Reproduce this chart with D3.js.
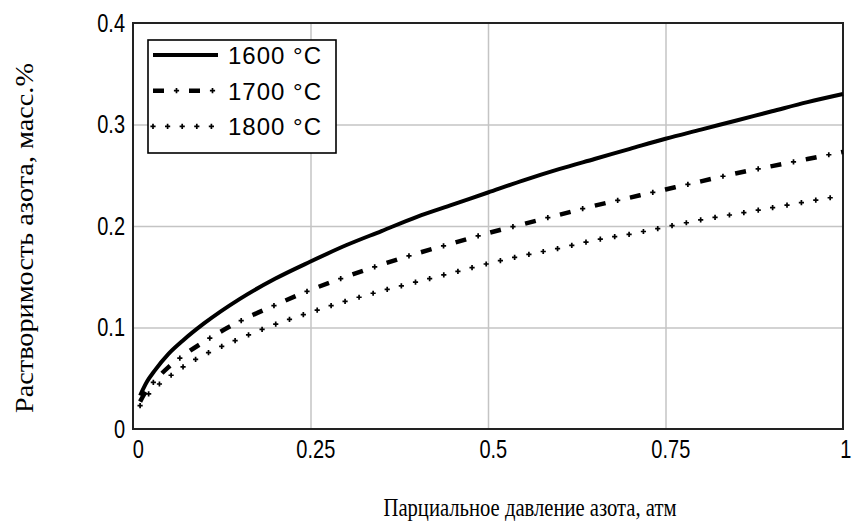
<!DOCTYPE html>
<html>
<head>
<meta charset="utf-8">
<script src="https://cdn.jsdelivr.net/npm/d3@7"></script>
<style>
  body { margin: 0; background: #fff; }
  text { fill: #000; }
</style>
</head>
<body>
<svg id="chart" width="853" height="521"></svg>
<script>
// partial pressure of nitrogen, atm
const pressure = [0.01, 0.02, 0.03, 0.05, 0.07, 0.1, 0.15, 0.2, 0.25, 0.3, 0.35, 0.4,
                  0.45, 0.5, 0.55, 0.6, 0.65, 0.7, 0.75, 0.8, 0.85, 0.9, 0.95, 1.0];
// nitrogen solubility, wt.%
const sol1600 = [0.033, 0.047, 0.057, 0.074, 0.087, 0.104, 0.128, 0.148, 0.165, 0.181, 0.195, 0.209,
                 0.221, 0.233, 0.245, 0.256, 0.266, 0.276, 0.286, 0.295, 0.304, 0.313, 0.322, 0.330];
const sol1700 = [0.027, 0.039, 0.047, 0.061, 0.072, 0.086, 0.106, 0.122, 0.137, 0.150, 0.162, 0.173,
                 0.183, 0.193, 0.202, 0.211, 0.220, 0.228, 0.236, 0.244, 0.252, 0.259, 0.266, 0.273];
const sol1800 = [0.023, 0.033, 0.040, 0.051, 0.061, 0.073, 0.089, 0.103, 0.115, 0.126, 0.136, 0.145,
                 0.154, 0.163, 0.171, 0.178, 0.186, 0.192, 0.199, 0.206, 0.212, 0.218, 0.224, 0.230];
const seriesNames = ["1600 °C", "1700 °C", "1800 °C"];

const xTicks = [0, 0.25, 0.5, 0.75, 1];
const xTickLabels = ["0", "0.25", "0.5", "0.75", "1"];
const yTicks = [0, 0.1, 0.2, 0.3, 0.4];
const yTickLabels = ["0", "0.1", "0.2", "0.3", "0.4"];
const xTitle = "Парциальное давление азота, атм";
const yTitle = "Растворимость азота, масс.%";

const series = [
  { name: seriesNames[0], values: sol1600, style: "solid" },
  { name: seriesNames[1], values: sol1700, style: "dashdot" },
  { name: seriesNames[2], values: sol1800, style: "dotted" }
];

const svg = d3.select("#chart");
const plotLeft = 133, plotTop = 23, plotRight = 843, plotBottom = 429;

const x = d3.scaleLinear().domain([0, 1]).range([plotLeft, plotRight]);
const y = d3.scaleLinear().domain([0, 0.4]).range([plotBottom, plotTop]);

const tickFont = "'Liberation Sans', Arial, sans-serif";
const titleFont = "'Liberation Serif', 'Times New Roman', serif";

// grid
svg.append("g")
  .attr("transform", "translate(0," + plotBottom + ")")
  .call(d3.axisBottom(x).tickValues(xTicks.slice(1, -1)).tickSize(-(plotBottom - plotTop)).tickFormat(""))
  .call(g => g.select(".domain").remove())
  .call(g => g.selectAll("line").attr("stroke", "#c4c4c4").attr("stroke-width", 1.5));
svg.append("g")
  .attr("transform", "translate(" + plotLeft + ",0)")
  .call(d3.axisLeft(y).tickValues(yTicks.slice(1, -1)).tickSize(-(plotRight - plotLeft)).tickFormat(""))
  .call(g => g.select(".domain").remove())
  .call(g => g.selectAll("line").attr("stroke", "#c4c4c4").attr("stroke-width", 1.5));

// tick labels (narrow, tall digits)
svg.append("g")
  .attr("transform", "translate(0," + plotBottom + ")")
  .call(d3.axisBottom(x).tickValues(xTicks).tickSize(0).tickPadding(11)
    .tickFormat((d, i) => xTickLabels[i]))
  .call(g => g.select(".domain").remove())
  .call(g => g.selectAll("text")
    .attr("dx", (d, i) => i === xTicks.length - 1 ? 3 : 6)
    .attr("transform", "scale(0.8,1)")
    .attr("font-family", tickFont).attr("font-size", 25).attr("fill", "#000"));
svg.append("g")
  .attr("transform", "translate(" + plotLeft + ",0)")
  .call(d3.axisLeft(y).tickValues(yTicks).tickSize(0).tickPadding(10)
    .tickFormat((d, i) => yTickLabels[i]))
  .call(g => g.select(".domain").remove())
  .call(g => g.selectAll("text")
    .attr("transform", "scale(0.8,1)")
    .attr("font-family", tickFont).attr("font-size", 25).attr("fill", "#000"));

// frame
svg.append("rect")
  .attr("x", plotLeft).attr("y", plotTop)
  .attr("width", plotRight - plotLeft).attr("height", plotBottom - plotTop)
  .attr("fill", "none").attr("stroke", "#222").attr("stroke-width", 2);

const plus = "M-2.6,0H2.6M0,-2.6V2.6";

function drawStyled(g, d, style) {
  if (style === "solid") {
    g.append("path").attr("d", d).attr("fill", "none")
      .attr("stroke", "#000").attr("stroke-width", 4);
    return;
  }
  const p = g.append("path").attr("d", d).attr("fill", "none");
  const node = p.node();
  const L = node.getTotalLength();
  let step, start;
  if (style === "dashdot") {
    p.attr("stroke", "#000").attr("stroke-width", 4.5)
      .attr("stroke-dasharray", "11 25");
    step = 36; start = 23.5;
  } else {
    p.attr("stroke", "none");
    step = 14.6; start = 0;
  }
  for (let l = start; l <= L + 0.5; l += step) {
    const pt = node.getPointAtLength(Math.min(l, L));
    g.append("path").attr("d", plus)
      .attr("transform", "translate(" + pt.x + "," + pt.y + ")")
      .attr("stroke", "#000").attr("stroke-width", 1.7);
  }
}

const line = d3.line()
  .x(d => x(d[0]))
  .y(d => y(d[1]))
  .curve(d3.curveMonotoneX);

const plot = svg.append("g");
series.forEach(s => {
  const pts = pressure.map((p, i) => [p, s.values[i]]);
  drawStyled(plot.append("g"), line(pts), s.style);
});

// legend
const legend = svg.append("g");
legend.append("rect")
  .attr("x", 148).attr("y", 40).attr("width", 188).attr("height", 113)
  .attr("fill", "#fff").attr("stroke", "#000").attr("stroke-width", 1.6);
series.forEach((s, i) => {
  const ly = 55 + i * 35.7;
  drawStyled(legend.append("g"), d3.line()([[153, ly], [218, ly]]), s.style);
  legend.append("text")
    .attr("x", 228).attr("y", ly + 9)
    .attr("font-family", tickFont).attr("font-size", 24)
    .attr("letter-spacing", 1)
    .text(s.name);
});

// titles
svg.append("text")
  .attr("x", 530).attr("y", 516)
  .attr("text-anchor", "middle")
  .attr("font-family", titleFont).attr("font-size", 26)
  .attr("textLength", 293).attr("lengthAdjust", "spacingAndGlyphs")
  .text(xTitle);
svg.append("text")
  .attr("transform", "translate(33,238) rotate(-90)")
  .attr("text-anchor", "middle")
  .attr("font-family", titleFont).attr("font-size", 25)
  .attr("textLength", 350).attr("lengthAdjust", "spacingAndGlyphs")
  .text(yTitle);
</script>
</body>
</html>
